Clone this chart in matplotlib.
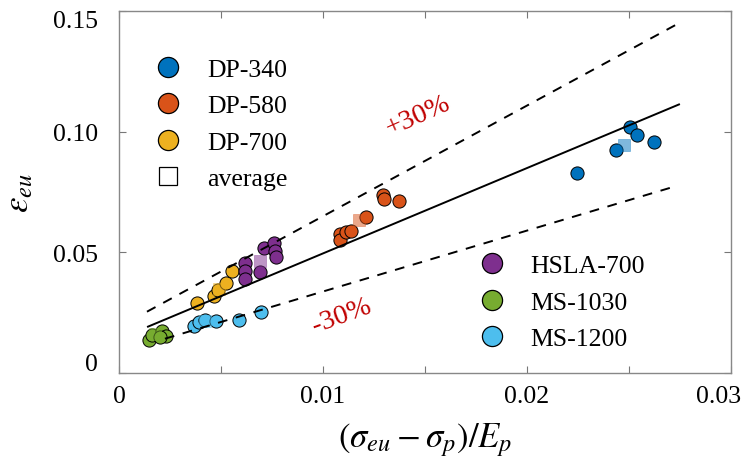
#!/usr/bin/env python3

import numpy as np
import matplotlib
matplotlib.use('Agg')
import matplotlib.pyplot as plt
import matplotlib.transforms as mtransforms
from matplotlib.lines import Line2D

plt.rcParams['font.family'] = ['Liberation Serif', 'DejaVu Serif']
plt.rcParams['mathtext.fontset'] = 'stix'

# measured points per steel grade: (sigma_eu - sigma_p)/E_p , eps_eu
dp340_x = [0.02245, 0.02436, 0.02505, 0.02539, 0.02623]
dp340_y = [0.0829, 0.0925, 0.1021, 0.0988, 0.0958]
dp580_x = [0.01294, 0.01299, 0.01373, 0.01211, 0.01083, 0.01083, 0.01113, 0.01137]
dp580_y = [0.0738, 0.0721, 0.0713, 0.0646, 0.0575, 0.0550, 0.0583, 0.0588]
dp700_x = [0.00382, 0.00466, 0.00485, 0.00525, 0.00554]
dp700_y = [0.0288, 0.0321, 0.0342, 0.0375, 0.0421]
hsla_x = [0.00618, 0.00618, 0.00618, 0.00691, 0.00711, 0.00760, 0.00765, 0.00770]
hsla_y = [0.0454, 0.0421, 0.0388, 0.0417, 0.0517, 0.0538, 0.0504, 0.0479]
ms1030_x = [0.00147, 0.00162, 0.00211, 0.00230, 0.00200]
ms1030_y = [0.0138, 0.0158, 0.0175, 0.0154, 0.0150]
ms1200_x = [0.00368, 0.00392, 0.00422, 0.00475, 0.00588, 0.00696]
ms1200_y = [0.0196, 0.0213, 0.0221, 0.0217, 0.0221, 0.0254]

# averages (squares)
avg_x = [0.02475, 0.01176, 0.00490, 0.00691, 0.00176, 0.00420]
avg_y = [0.0946, 0.0633, 0.0350, 0.0463, 0.0163, 0.0215]

names = ['DP-340', 'DP-580', 'DP-700', 'HSLA-700', 'MS-1030', 'MS-1200']
colors = ['#0072BD', '#D95319', '#EDB120', '#7E2F8E', '#77AC30', '#4DBEEE']

# fit line and +/-30% bounds
fit_x = [0.00142, 0.02745]
fit_y = [0.0192, 0.1113]
up_x = [0.00137, 0.02745]
up_y = [0.0254, 0.1450]
lo_x = [0.00225, 0.02716]
lo_y = [0.0142, 0.0771]

xticks = [0, 0.01, 0.02, 0.03]
xticklabels = ['0', '0.01', '0.02', '0.03']
yticks = [0, 0.05, 0.10, 0.15]
yticklabels = ['0', '0.05', '0.10', '0.15']

fig = plt.figure(figsize=(7.42, 4.64), dpi=100)
ax = fig.add_axes([0.1604, 0.194, 0.8248, 0.780])

xs = [dp340_x, dp580_x, dp700_x, hsla_x, ms1030_x, ms1200_x]
ys = [dp340_y, dp580_y, dp700_y, hsla_y, ms1030_y, ms1200_y]
for x, y, c in zip(xs, ys, colors):
    ax.scatter(x, y, s=90, color=c, edgecolor='black', linewidth=0.7, zorder=3)
for x, y, c in zip(avg_x, avg_y, colors):
    ax.scatter(x, y, s=70, marker='s', color=c, alpha=0.5, edgecolor=c,
               linewidth=0.5, zorder=4)

ax.plot(fit_x, fit_y, color='black', lw=1.4, zorder=5)
ax.plot(up_x, up_y, color='black', lw=1.4, dashes=(5, 4.5), zorder=5)
ax.plot(lo_x, lo_y, color='black', lw=1.4, dashes=(5, 4.5), zorder=5)

ax.text(0.01465, 0.107, '+30%', color='#C00000', fontsize=20.5, rotation=24,
        ha='center', va='center')
ax.text(0.01089, 0.0240, '-30%', color='#C00000', fontsize=20.5, rotation=20,
        ha='center', va='center')

ax.set_xlim(0, 0.03)
ax.set_ylim(0, 0.15)
ax.set_xticks(xticks)
ax.set_xticklabels(xticklabels)
ax.set_xticks(np.arange(0.005, 0.03, 0.01), minor=True)
ax.set_yticks(yticks)
ax.set_yticklabels(yticklabels)
ax.tick_params(which='both', direction='in', top=True, right=True,
               colors='#777777', labelcolor='black', labelsize=18.5)
ax.tick_params(which='both', length=5, width=0.8)
ax.tick_params(axis='y', pad=15)
ax.tick_params(axis='x', pad=9)
for sp in ax.spines.values():
    sp.set_color('#888888')
    sp.set_linewidth(1.0)

# matlab-like nudges of the end labels
def nudge(lbl, dx, dy):
    lbl.set_transform(lbl.get_transform() +
                      mtransforms.ScaledTranslation(dx / 72, dy / 72, fig.dpi_scale_trans))

nudge(ax.get_xticklabels()[-1], -9, 0)
nudge(ax.get_yticklabels()[-1], 0, -5)
nudge(ax.get_yticklabels()[0], 0, 8)

ax.set_xlabel(r'$\left(\sigma_{eu}-\sigma_p\right)/E_p$', fontsize=25, labelpad=9)
ax.set_ylabel(r'$\varepsilon_{eu}$', fontsize=25, labelpad=12)

def handle(c, m='o', ms=14.5, face=None):
    return Line2D([], [], linestyle='none', marker=m, markersize=ms,
                  markerfacecolor=face if face else c, markeredgecolor='black',
                  markeredgewidth=0.9)

h1 = [handle(colors[0]), handle(colors[1]), handle(colors[2]),
      handle('white', m='s', ms=12.5)]
leg1 = ax.legend(h1, names[:3] + ['average'], loc='upper left',
                 bbox_to_anchor=(0.022, 0.90), frameon=False, fontsize=18.5,
                 handletextpad=0.5, labelspacing=0.53, borderaxespad=0)
ax.add_artist(leg1)
h2 = [handle(colors[3]), handle(colors[4]), handle(colors[5])]
ax.legend(h2, names[3:], loc='upper left', bbox_to_anchor=(0.551, 0.357),
          frameon=False, fontsize=18.5, handletextpad=0.5, labelspacing=0.53,
          borderaxespad=0)

fig.savefig('out.png', dpi=100)
